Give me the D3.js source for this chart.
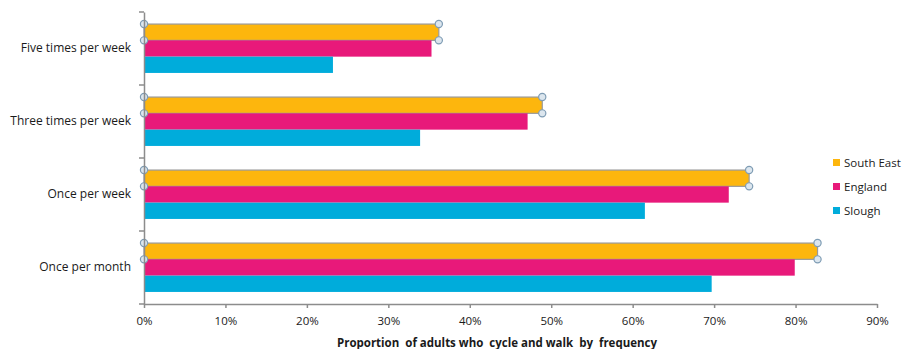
<!DOCTYPE html>
<html>
<head>
<meta charset="utf-8">
<script src="https://cdn.jsdelivr.net/npm/d3@7"></script>
<style>
  body { margin: 0; background: #fff; }
  text { font-family: "Open Sans", sans-serif; fill: #1a1a1a; }
</style>
</head>
<body>
<svg id="chart" width="907" height="349"></svg>
<script>
// data
const categories = ['Five times per week', 'Three times per week', 'Once per week', 'Once per month'];
const series = ['South East', 'England', 'Slough'];
const southEast = [0.362, 0.489, 0.743, 0.827];
const england = [0.353, 0.471, 0.718, 0.799];
const slough = [0.232, 0.339, 0.615, 0.697];
const xTicks = [0, 0.1, 0.2, 0.3, 0.4, 0.5, 0.6, 0.7, 0.8, 0.9];
const axisTitle = 'Proportion  of adults who  cycle and walk  by  frequency';

const values = { 'South East': southEast, 'England': england, 'Slough': slough };
const colors = { 'South East': '#FDB60D', 'England': '#E8197A', 'Slough': '#00ACDB' };

const svg = d3.select('#chart');
const plotLeft = 144, plotRight = 877, plotTop = 12, plotBottom = 304;

// scales
const x = d3.scaleLinear().domain([0, 0.9]).range([plotLeft, plotRight]);
const y0 = d3.scaleBand().domain(categories).range([plotTop, plotBottom]).padding(0);
const y1 = d3.scaleBand().domain(series).range([0, y0.bandwidth()])
  .paddingInner(0).paddingOuter(0.74);

// bars
const groups = svg.append('g').selectAll('g')
  .data(categories)
  .join('g')
  .attr('transform', d => `translate(0,${y0(d)})`);

groups.selectAll('rect')
  .data((c, i) => series.map(s => ({ s, v: values[s][i] })))
  .join('rect')
  .attr('x', x(0))
  .attr('y', d => y1(d.s))
  .attr('width', d => x(d.v) - x(0))
  .attr('height', y1.bandwidth())
  .attr('fill', d => colors[d.s])
  .attr('stroke', d => d.s === 'South East' ? '#9a9a9a' : 'none')
  .attr('stroke-width', 1.2);

// selection handles on the South East series
groups.each(function (c, i) {
  const g = d3.select(this);
  const yt = y1('South East');
  const yb = yt + y1.bandwidth();
  const pts = [[x(0), yt], [x(0), yb], [x(southEast[i]), yt], [x(southEast[i]), yb]];
  g.selectAll('circle')
    .data(pts)
    .join('circle')
    .attr('cx', d => d[0])
    .attr('cy', d => d[1])
    .attr('r', 3.6)
    .attr('fill', '#dce6ee')
    .attr('stroke', '#7e9cb4')
    .attr('stroke-width', 1.2);
});

// x axis
const xAxis = d3.axisBottom(x)
  .tickValues(xTicks)
  .tickFormat(d3.format('.0%'))
  .tickSize(4)
  .tickSizeOuter(0);

const gx = svg.append('g')
  .attr('transform', `translate(0,${plotBottom})`)
  .call(xAxis);
gx.select('.domain').attr('stroke', '#8c8c8c').attr('stroke-width', 1.5);
gx.selectAll('.tick line').attr('stroke', '#8c8c8c').attr('stroke-width', 1.5);
gx.selectAll('.tick text')
  .attr('y', 13)
  .style('font-size', '11.5px')
  .style('font-family', '"Open Sans", sans-serif');

// y axis: labels at band centres, ticks at band edges
const yAxis = d3.axisLeft(y0).tickSize(0).tickPadding(13);
const gy = svg.append('g')
  .attr('transform', `translate(${plotLeft},0)`)
  .call(yAxis);
gy.select('.domain').attr('stroke', '#8c8c8c').attr('stroke-width', 1.5);
gy.selectAll('.tick text')
  .style('font-size', '12px')
  .style('font-family', '"Open Sans", sans-serif');

const edges = categories.map(c => y0(c)).concat([plotBottom]);
gy.selectAll('line.edge')
  .data(edges)
  .join('line')
  .attr('class', 'edge')
  .attr('x1', -5)
  .attr('x2', 0)
  .attr('y1', d => d)
  .attr('y2', d => d)
  .attr('stroke', '#8c8c8c')
  .attr('stroke-width', 1.5);

// axis title
svg.append('text')
  .attr('x', 497)
  .attr('y', 347)
  .attr('text-anchor', 'middle')
  .style('font-size', '11.5px')
  .style('font-weight', 'bold')
  .style('white-space', 'pre')
  .text(axisTitle);

// legend
const legend = svg.append('g')
  .attr('transform', 'translate(833,159)');
const items = legend.selectAll('g')
  .data(series)
  .join('g')
  .attr('transform', (d, i) => `translate(0,${i * 24})`);
items.append('rect')
  .attr('width', 7)
  .attr('height', 7)
  .attr('fill', d => colors[d]);
items.append('text')
  .attr('x', 11)
  .attr('y', 8)
  .style('font-size', '11.5px')
  .text(d => d);
</script>
</body>
</html>
